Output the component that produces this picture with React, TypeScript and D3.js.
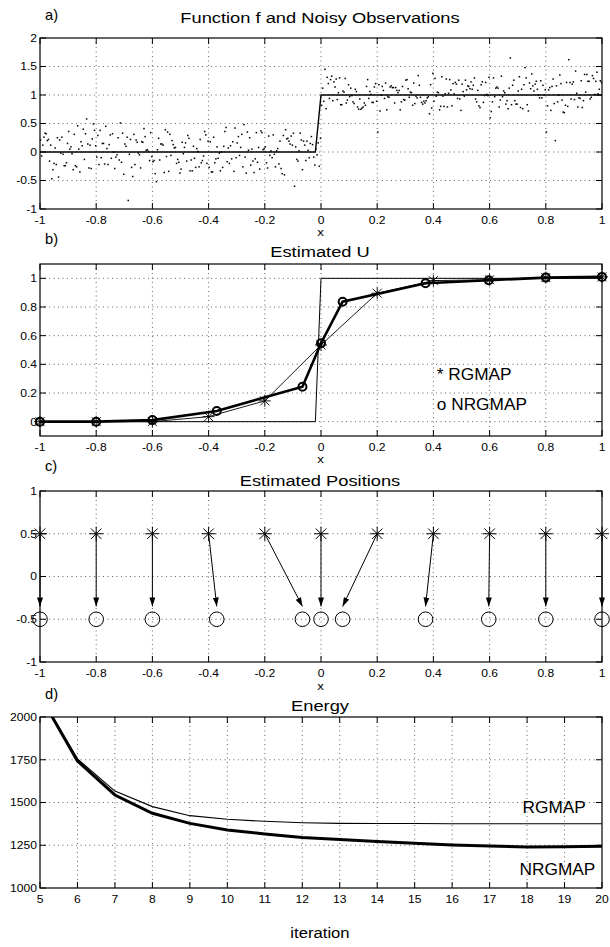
import * as d3 from 'd3'

// ---- panel a: noisy observations (left half around 0, right half around 1) ----
const obsLeft = [
  0.21, -0.15, 0.08, 0.58, -0.27, 0.12, -0.43, 0.31, 0.05, -0.18, 0.24, -0.09, 0.36, -0.31, 0.14, 0.02, -0.22, 0.19, -0.05, 0.27, -0.36, 0.11, -0.14, 0.33, -0.85,
  0.16, -0.24, 0.07, 0.29, -0.11, -0.33, 0.22, 0.04, -0.19, 0.38, -0.07, 0.13, -0.28, 0.25, 0.46, -0.16, 0.09, -0.39, 0.18, -0.02, 0.31, -0.21, 0.06, -0.12, 0.26,
  -0.17, 0.34, 0.12, -0.26, 0.03, 0.21, -0.09, -0.31, 0.17, 0.28, -0.14, 0.07, -0.22, 0.39, -0.04, 0.15, -0.35, 0.24, 0.01, -0.18, 0.32, -0.11, 0.19, -0.27, 0.08,
  0.36, -0.13, 0.23, -0.29, 0.1, -0.47, 0.14, -0.06, 0.29, -0.2, 0.05, 0.41, -0.16, 0.18, -0.33, 0.02, 0.26, -0.1, -0.24, 0.13, -0.38, 0.3, -0.02, 0.2, -0.52,
  0.09, 0.49, -0.15, 0.27, -0.05, 0.03, -0.26, 0.16, -0.6, 0.33, -0.12, 0.21, -0.34, 0.06, 0.45, -0.19, 0.12, -0.08, 0.37, -0.28, 0.01, 0.19, -0.22, 0.48, -0.03,
  -0.3, 0.14, 0.25, -0.17, 0.07, -0.36, 0.3, -0.1, 0.18, -0.25, 0.04, 0.34, -0.13, 0.1, -0.31, 0.22, -0.06, 0.15, -0.2, 0.39, 0.0, -0.27, 0.12, -0.14, 0.28,
  -0.09, 0.3, -0.23, 0.17, 0.05, -0.35, 0.24, -0.16, 0.1, 0.42, -0.04, 0.2, -0.29, 0.13, -0.11, 0.32, -0.38, 0.06, 0.23, -0.19, 0.15, -0.02, 0.35, -0.24, 0.08,
  0.33, -0.18, 0.11, -0.44, 0.35, 0.02, -0.21, 0.26, -0.07, 0.34, -0.3, 0.14, 0.06, -0.15, 0.31, -0.26, 0.09, -0.37, 0.19, -0.05, 0.43, -0.2, 0.12, -0.1, 0.38,
  -0.27, 0.16, 0.03, -0.12, 0.4, -0.33, 0.21, -0.04, 0.27, -0.19, 0.08, -0.4, 0.32, 0.0, -0.16, 0.24, -0.28, 0.11, 0.36, -0.09, 0.18, -0.23, 0.05, 0.29, -0.13,
  0.14, -0.34, 0.26, -0.06, 0.19, -0.22, 0.09, 0.33, -0.15, 0.04, -0.29, 0.22, -0.1, 0.17, -0.37, 0.31, -0.03, 0.12, 0.51, -0.2, 0.25, -0.08, -0.26, 0.15, -0.35,
]
const obsRight = [
  0.82, 1.18, 0.95, 1.27, 0.88, 1.05, 1.21, 0.76, 1.12, 0.93, 1.62, 1.08, 0.84, 1.23, 0.98, 1.15, 0.72, 1.31, 1.02, 0.9, 1.19, 0.79, 1.1, 1.25, 0.96,
  1.07, 0.86, 1.22, 0.69, 1.13, 1.33, 0.94, 1.04, 0.81, 1.2, 0.99, 1.29, 0.87, 1.11, 0.75, 1.16, 1.03, 0.91, 1.26, 0.83, 1.09, 1.35, 0.97, 1.14, 1.45,
  0.89, 1.17, 1.01, 0.78, 1.24, 0.95, 1.3, 0.85, 1.06, 1.19, 0.74, 1.12, 0.92, 1.28, 0.2, 1.08, 0.88, 1.22, 0.67, 1.0, 1.15, 0.93, 1.36, 0.82, 1.1,
  0.97, 1.26, 0.8, 1.13, 1.04, 0.9, 1.32, 0.73, 1.18, 0.99, 1.4, 0.86, 1.07, 0.77, 1.23, 0.94, 1.11, 0.84, 1.29, 1.02, 0.7, 1.16, 0.91, 1.2, 1.05,
  0.35, 1.14, 0.87, 1.34, 0.96, 1.21, 0.79, 1.09, 1.42, 0.92, 1.17, 0.83, 1.27, 1.0, 0.74, 1.12, 0.89, 1.38, 0.95, 1.06, 0.81, 1.24, 0.98, 1.48, 0.88,
  1.19, 0.93, 1.08, 0.76, 1.28, 1.02, 0.85, 1.15, 0.71, 1.25, 0.97, 1.1, 0.82, 1.3, 0.9, 1.04, 0.78, 1.18, 0.94, 1.22, 0.86, 1.07, 1.33, 0.8, 1.13,
  0.35, 1.01, 1.24, 0.89, 1.16, 0.75, 1.11, 0.95, 1.27, 0.84, 1.05, 1.2, 0.91, 1.14, 0.79, 1.31, 0.98, 1.09, 0.87, 1.23, 0.96, 1.17, 0.72, 1.06, 1.26,
  0.92, 1.15, 0.83, 1.3, 1.03, 0.88, 1.21, 0.97, 1.12, 0.77, 1.25, 0.94, 1.08, 1.36, 0.85, 1.18, 0.99, 0.73, 1.22, 1.04, 0.9, 1.14, 0.8, 1.28, 1.0,
  0.6, 1.1, 0.95, 1.24, 0.86, 1.17, 0.78, 1.05, 1.32, 0.91, 1.19, 0.82, 1.13, 0.97, 1.27, 0.74, 1.09, 0.89, 1.22, 1.01, 0.84, 1.37, 0.93, 1.15, 0.79,
  1.26, 0.9, 1.07, 0.81, 1.2, 0.96, 1.12, 0.76, 1.29, 1.0, 0.87, 1.18, 0.93, 1.34, 0.83, 1.1, 0.98, 1.23, 0.88, 1.65, 1.04, 0.79, 1.16, 0.94, 1.3,
]
// true function f (step)
const stepX = [-1, -0.02, 0, 1]
const stepY = [0, 0, 1, 1]

// ---- panel b: estimated U ----
const rgX = [-1, -0.8, -0.6, -0.4, -0.2, 0, 0.2, 0.4, 0.6, 0.8, 1]
const rgU = [0, 0, 0, 0.035, 0.145, 0.535, 0.896, 0.984, 0.99, 1.005, 1.01]
const nrgX = [-1, -0.8, -0.6, -0.371, -0.066, 0, 0.077, 0.372, 0.597, 0.8, 1]
const nrgU = [0, 0, 0.011, 0.075, 0.244, 0.547, 0.837, 0.966, 0.987, 1.005, 1.01]

// ---- panel c: levels ----
const starLevel = 0.5
const circleLevel = -0.5
const arrowTipLevel = -0.35

// ---- panel d: energy ----
const iterations = [5, 6, 7, 8, 9, 10, 11, 12, 13, 14, 15, 16, 17, 18, 19, 20]
const rgEnergy = [2125, 1755, 1567, 1476, 1423, 1402, 1390, 1382, 1378, 1377, 1377, 1376, 1376, 1376, 1376, 1376]
const nrgEnergy = [2125, 1743, 1544, 1437, 1378, 1339, 1316, 1296, 1284, 1272, 1262, 1252, 1245, 1240, 1241, 1244]

// tick labels
const xTicksU = [-1, -0.8, -0.6, -0.4, -0.2, 0, 0.2, 0.4, 0.6, 0.8, 1]
const yTicksA = [-1, -0.5, 0, 0.5, 1, 1.5, 2]
const yTicksB = [0, 0.2, 0.4, 0.6, 0.8, 1]
const yTicksC = [-1, -0.5, 0, 0.5, 1]
const xTicksD = [5, 6, 7, 8, 9, 10, 11, 12, 13, 14, 15, 16, 17, 18, 19, 20]
const yTicksD = [1000, 1250, 1500, 1750, 2000]

const W = 610
const H = 947
const L = 40
const R = 602
const FONT = 'Liberation Sans, Arial, Helvetica, sans-serif'

function Txt({ x, y, size, anchor = 'middle', sx = 1.1, dy = 0, children }: any) {
  return (
    <text transform={`translate(${x},${y}) scale(${sx},1)`} dy={dy} fontSize={size}
      textAnchor={anchor} fontFamily={FONT} fill="#000">{children}</text>
  )
}

function Frame({ x, y, xTicks, yTicks }: any) {
  const [x0, x1] = x.domain()
  const [y0, y1] = y.domain()
  const top = y(y1), bottom = y(y0)
  const tk = 6
  return (
    <g>
      {/* dotted grid */}
      {xTicks.filter((t: number) => t > x0 && t < x1).map((t: number) => (
        <line key={'gx' + t} x1={x(t)} x2={x(t)} y1={top} y2={bottom}
          stroke="#555" strokeWidth={0.9} strokeDasharray="1 3.5" />
      ))}
      {yTicks.filter((t: number) => t > y0 && t < y1).map((t: number) => (
        <line key={'gy' + t} x1={L} x2={R} y1={y(t)} y2={y(t)}
          stroke="#555" strokeWidth={0.9} strokeDasharray="1 3.5" />
      ))}
      {/* inward ticks on all sides */}
      {xTicks.map((t: number) => (
        <g key={'tx' + t}>
          <line x1={x(t)} x2={x(t)} y1={bottom} y2={bottom - tk} stroke="#000" />
          <line x1={x(t)} x2={x(t)} y1={top} y2={top + tk} stroke="#000" />
          <Txt x={x(t)} y={bottom + 15} size={11}>{String(t)}</Txt>
        </g>
      ))}
      {yTicks.map((t: number) => (
        <g key={'ty' + t}>
          <line x1={L} x2={L + tk} y1={y(t)} y2={y(t)} stroke="#000" />
          <line x1={R} x2={R - tk} y1={y(t)} y2={y(t)} stroke="#000" />
          <Txt x={L - 3} y={y(t)} dy="0.36em" size={11} anchor="end">{String(t)}</Txt>
        </g>
      ))}
      <rect x={L} y={top} width={R - L} height={bottom - top} fill="none" stroke="#000" strokeWidth={1.2} />
    </g>
  )
}

function starPath(cx: number, cy: number, r: number) {
  const d = r * 0.75
  return `M${cx - r},${cy}H${cx + r}M${cx},${cy - r}V${cy + r}` +
    `M${cx - d},${cy - d}L${cx + d},${cy + d}M${cx - d},${cy + d}L${cx + d},${cy - d}`
}

// spread the samples over the sampling grid in a fixed interleaved order
function slot(i: number, n: number) {
  return ((i * 97) % n + 0.5) / n
}

export default function App() {
  // panel a
  const xa = d3.scaleLinear().domain([-1, 1]).range([L, R])
  const ya = d3.scaleLinear().domain([-1, 2]).range([209, 38])
  const obs = [
    ...obsLeft.map((v, i) => ({ x: -1 + slot(i, obsLeft.length), y: v })),
    ...obsRight.map((v, i) => ({ x: slot(i, obsRight.length), y: v })),
  ]
  const stepPts = stepX.map((v, i) => [v, stepY[i]] as [number, number])

  // panel b
  const xb = d3.scaleLinear().domain([-1, 1]).range([L, R])
  const yb = d3.scaleLinear().domain([-0.1, 1.1]).range([436, 264])
  const rgPts = rgX.map((v, i) => [v, rgU[i]] as [number, number])
  const nrgPts = nrgX.map((v, i) => [v, nrgU[i]] as [number, number])

  // panel c
  const xc = d3.scaleLinear().domain([-1, 1]).range([L, R])
  const yc = d3.scaleLinear().domain([-1, 1]).range([662, 491])

  // panel d
  const xd = d3.scaleLinear().domain([5, 20]).range([L, R])
  const yd = d3.scaleLinear().domain([1000, 2000]).range([888, 717])
  const rgE = iterations.map((v, i) => [v, rgEnergy[i]] as [number, number])
  const nrgE = iterations.map((v, i) => [v, nrgEnergy[i]] as [number, number])

  const lineA = d3.line().x(d => xa(d[0])).y(d => ya(d[1]))
  const lineB = d3.line().x(d => xb(d[0])).y(d => yb(d[1]))
  const lineD = d3.line().x(d => xd(d[0])).y(d => yd(d[1]))

  return (
    <svg width={W} height={H} style={{ position: 'absolute', left: 0, top: 0, background: '#fff' }}>
      <defs>
        <marker id="arrow" markerUnits="userSpaceOnUse" markerWidth={9} markerHeight={6}
          refX={9} refY={3} orient="auto">
          <path d="M0,0L9,3L0,6Z" fill="#000" />
        </marker>
        <clipPath id="clipD">
          <rect x={L} y={717} width={R - L} height={171} />
        </clipPath>
      </defs>

      {/* ---------- a) ---------- */}
      <Txt x={45} y={20} size={14} anchor="start" sx={1.05}>a)</Txt>
      <Txt x={320} y={23} size={15.5} sx={1.18}>Function f and Noisy Observations</Txt>
      <Frame x={xa} y={ya} xTicks={xTicksU} yTicks={yTicksA} />
      {obs.map((d, i) => (
        <rect key={i} x={xa(d.x) - 0.75} y={ya(d.y) - 0.75} width={1.5} height={1.5} fill="#000" />
      ))}
      <path d={lineA(stepPts) || ''} fill="none" stroke="#000" strokeWidth={1.4} />
      <Txt x={320.5} y={236} size={11.5} sx={1.15}>x</Txt>

      {/* ---------- b) ---------- */}
      <Txt x={45} y={244} size={14} anchor="start" sx={1.05}>b)</Txt>
      <Txt x={320} y={257} size={15.5} sx={1.18}>Estimated U</Txt>
      <Frame x={xb} y={yb} xTicks={xTicksU} yTicks={yTicksB} />
      <path d={lineB(stepPts) || ''} fill="none" stroke="#000" strokeWidth={1} />
      <path d={lineB(rgPts) || ''} fill="none" stroke="#000" strokeWidth={0.9} />
      {rgPts.map((d, i) => (
        <path key={'s' + i} d={starPath(xb(d[0]), yb(d[1]), 6)} stroke="#000" strokeWidth={0.9} fill="none" />
      ))}
      <path d={lineB(nrgPts) || ''} fill="none" stroke="#000" strokeWidth={2.6} />
      {nrgPts.map((d, i) => (
        <circle key={'o' + i} cx={xb(d[0])} cy={yb(d[1])} r={4} fill="none" stroke="#000" strokeWidth={2} />
      ))}
      <Txt x={xb(0.412)} y={yb(0.29)} size={16} anchor="start" sx={1.08}>* RGMAP</Txt>
      <Txt x={xb(0.412)} y={yb(0.078)} size={16} anchor="start" sx={1.08}>o NRGMAP</Txt>
      <Txt x={320.5} y={463} size={11.5} sx={1.15}>x</Txt>

      {/* ---------- c) ---------- */}
      <Txt x={45} y={471} size={14} anchor="start" sx={1.05}>c)</Txt>
      <Txt x={320} y={486} size={15.5} sx={1.18}>Estimated Positions</Txt>
      <Frame x={xc} y={yc} xTicks={xTicksU} yTicks={yTicksC} />
      {rgX.map((v, i) => (
        <line key={'a' + i} x1={xc(v)} y1={yc(starLevel)} x2={xc(nrgX[i])} y2={yc(arrowTipLevel)}
          stroke="#000" strokeWidth={1} markerEnd="url(#arrow)" />
      ))}
      {rgX.map((v, i) => (
        <path key={'cs' + i} d={starPath(xc(v), yc(starLevel), 7)} stroke="#000" strokeWidth={1} fill="none" />
      ))}
      {nrgX.map((v, i) => (
        <circle key={'co' + i} cx={xc(v)} cy={yc(circleLevel)} r={7.3} fill="none" stroke="#000" strokeWidth={1} />
      ))}
      <Txt x={320.5} y={690} size={11.5} sx={1.15}>x</Txt>

      {/* ---------- d) ---------- */}
      <Txt x={45} y={699} size={14} anchor="start" sx={1.05}>d)</Txt>
      <Txt x={320} y={711} size={15.5} sx={1.18}>Energy</Txt>
      <Frame x={xd} y={yd} xTicks={xTicksD} yTicks={yTicksD} />
      <g clipPath="url(#clipD)">
        <path d={lineD(rgE) || ''} fill="none" stroke="#000" strokeWidth={1.1} />
        <path d={lineD(nrgE) || ''} fill="none" stroke="#000" strokeWidth={3} />
      </g>
      <Txt x={xd(17.88)} y={yd(1439)} size={16} anchor="start" sx={1.08}>RGMAP</Txt>
      <Txt x={xd(17.8)} y={yd(1076)} size={16} anchor="start" sx={1.08}>NRGMAP</Txt>
      <Txt x={320} y={938} size={14.5} sx={1.15}>iteration</Txt>
    </svg>
  )
}
